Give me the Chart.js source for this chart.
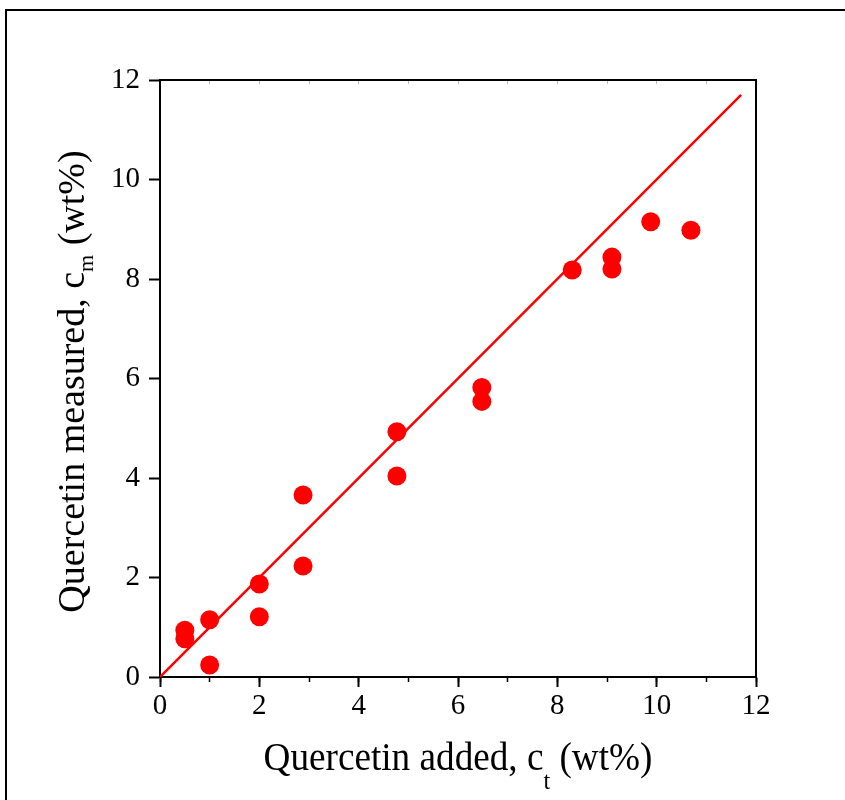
<!DOCTYPE html>
<html>
<head>
<meta charset="utf-8">
<script src="https://cdn.jsdelivr.net/npm/chart.js@4/dist/chart.umd.min.js"></script>
<style>
  html, body { margin: 0; padding: 0; background: #fff; }
  #wrap { position: relative; width: 845px; height: 800px; }
</style>
</head>
<body>
<div id="wrap"><canvas id="chart_quercetin" width="845" height="800"></canvas></div>
<script>
// values
var addedX    = [0.5, 0.5, 1.0, 1.0, 2.0, 2.0, 2.88, 2.88, 4.77, 4.77, 6.48, 6.48, 8.3, 9.1, 9.1, 9.88, 10.69];
var measuredY = [0.94, 0.77, 1.15, 0.24, 1.87, 1.21, 3.66, 2.23, 4.93, 4.04, 5.82, 5.54, 8.18, 8.44, 8.2, 9.15, 8.98];
var fitX = [0, 11.7];
var fitY = [0, 11.7];
var xTitleParts = [['Quercetin added, c', false], ['t', true], [' (wt%)', false]];
var yTitleParts = [['Quercetin measured, c', false], ['m', true], [' (wt%)', false]];

var serif = "'Liberation Serif', 'Times New Roman', serif";

function drawParts(ctx, parts, size, subSize, subShift) {
    var widths = parts.map(function (p) {
        ctx.font = (p[1] ? subSize : size) + 'px ' + serif;
        return ctx.measureText(p[0]).width;
    });
    var total = widths.reduce(function (a, b) { return a + b; }, 0);
    var x = -total / 2;
    parts.forEach(function (p, i) {
        ctx.font = (p[1] ? subSize : size) + 'px ' + serif;
        ctx.fillText(p[0], x, p[1] ? subShift : 0);
        x += widths[i];
    });
}

var chart_quercetin = new Chart(document.getElementById('chart_quercetin'), {
    type: 'scatter',
    data: {
        datasets: [
            {
                label: 'Measured',
                data: addedX.map(function (x, i) { return { x: x, y: measuredY[i] }; }),
                backgroundColor: '#ff0000',
                borderWidth: 0,
                pointRadius: 9.5,
                pointHoverRadius: 9.5
            },
            {
                label: 'y = x',
                type: 'line',
                data: fitX.map(function (x, i) { return { x: x, y: fitY[i] }; }),
                borderColor: '#ff0000',
                borderWidth: 2.5,
                pointRadius: 0,
                fill: false
            }
        ]
    },
    options: {
        animation: false,
        responsive: false,
        events: [],
        layout: { padding: { left: 0, top: 80, right: 89, bottom: 0 } },
        plugins: {
            legend: { display: false },
            tooltip: { enabled: false },
            title: { display: false }
        },
        scales: {
            x: {
                type: 'linear', position: 'bottom', min: 0, max: 12,
                ticks: { stepSize: 2, color: '#000', font: { family: serif, size: 29 }, padding: 2, maxRotation: 0 },
                grid: { drawOnChartArea: false, color: '#000', tickLength: 10, tickWidth: 2 },
                border: { color: '#000', width: 2 },
                afterFit: function (s) { s.height = 123; }
            },
            xMinor: {
                type: 'linear', position: 'bottom', min: 0, max: 12, weight: -1,
                ticks: { stepSize: 1, display: false },
                grid: { drawOnChartArea: false, color: '#000', tickLength: 5, tickWidth: 1.5 },
                border: { display: false },
                afterFit: function (s) { s.height = 0; }
            },
            xTop: {
                type: 'linear', position: 'top', min: 0, max: 12,
                ticks: { stepSize: 1, display: false },
                grid: { drawOnChartArea: false, color: '#bbb', tickLength: -4, tickWidth: 1 },
                border: { color: '#000', width: 2 },
                afterFit: function (s) { s.height = 0; }
            },
            y: {
                type: 'linear', position: 'left', min: 0, max: 12,
                ticks: { stepSize: 2, color: '#000', font: { family: serif, size: 29 }, padding: 9 },
                grid: { drawOnChartArea: false, color: '#000', tickLength: 11, tickWidth: 2 },
                border: { color: '#000', width: 2 },
                afterFit: function (s) { s.width = 160; }
            },
            yRight: {
                type: 'linear', position: 'right', min: 0, max: 12,
                ticks: { display: false },
                grid: { display: false },
                border: { color: '#000', width: 2 },
                afterFit: function (s) { s.width = 0; }
            }
        }
    },
    plugins: [{
        id: 'frameAndTitles',
        beforeDraw: function (chart) {
            var ctx = chart.ctx;
            ctx.save();
            ctx.fillStyle = '#fff';
            ctx.fillRect(0, 0, chart.width, chart.height);
            ctx.strokeStyle = '#000';
            ctx.lineWidth = 2;
            ctx.beginPath();
            ctx.moveTo(6, chart.height);
            ctx.lineTo(6, 10);
            ctx.lineTo(chart.width, 10);
            ctx.stroke();
            ctx.restore();
        },
        afterDraw: function (chart) {
            var ctx = chart.ctx;
            var area = chart.chartArea;
            ctx.save();
            ctx.fillStyle = '#000';
            ctx.textBaseline = 'alphabetic';
            ctx.textAlign = 'left';
            // x axis title
            ctx.save();
            ctx.translate((area.left + area.right) / 2, 770);
            ctx.scale(0.93, 1);
            drawParts(ctx, xTitleParts, 40, 26, 19);
            ctx.restore();
            // y axis title
            ctx.save();
            ctx.translate(84, (area.top + area.bottom) / 2 + 3);
            ctx.rotate(-Math.PI / 2);
            drawParts(ctx, yTitleParts, 38, 22, 9);
            ctx.restore();
            ctx.restore();
        }
    }]
});
</script>
</body>
</html>
